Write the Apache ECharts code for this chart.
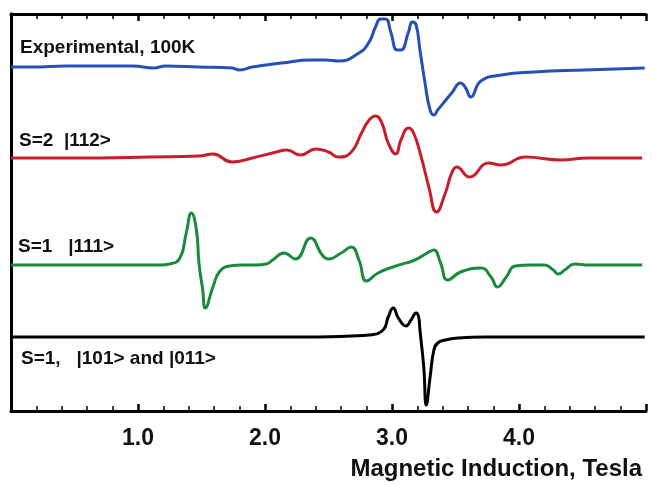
<!DOCTYPE html>
<html>
<head>
<meta charset="utf-8">
<script src="https://cdn.jsdelivr.net/npm/echarts@6/dist/echarts.min.js"></script>
<style>
  html, body { margin: 0; padding: 0; background: #fff; }
  #main { width: 653px; height: 485px; }
</style>
</head>
<body>
<div id="main"></div>
<script type="text/javascript">
    // field in Tesla, signal in arbitrary units (up = positive), each trace shifted by its offset
    var expField = [0.00,0.17,0.44,0.70,0.96,1.12,1.22,1.48,1.74,1.80,1.90,2.13,2.37,2.48,2.58,2.74,2.82,2.87,2.91,2.95,2.99,3.04,3.07,3.13,3.16,3.19,3.22,3.26,3.30,3.33,3.36,3.47,3.54,3.58,3.62,3.70,3.86,4.12,4.52,4.99];
    var expSig   = [0,0,1,1,1,-1,1,0,-1,-3,0,4,7,7,6,14,25,40,48,48,35,17,17,35,45,42,17,-16,-43,-48,-43,-26,-16,-21,-30,-14,-8,-5,-3,-1];

    var s2Field = [0.00,0.70,1.09,1.48,1.59,1.74,1.90,2.09,2.17,2.28,2.40,2.50,2.58,2.68,2.76,2.82,2.87,2.92,2.97,3.03,3.07,3.13,3.17,3.23,3.29,3.35,3.42,3.47,3.51,3.61,3.76,3.86,4.05,4.33,4.54,4.97];
    var s2Sig   = [0,0,1,2,4,-4,0,6,8,3,9,6,1,6,25,38,42,35,15,4,18,30,25,1,-29,-54,-35,-15,-9,-19,-5,-7,1,-2,0,0];

    var s1Field = [0.00,1.00,1.18,1.25,1.33,1.38,1.42,1.46,1.48,1.51,1.53,1.59,1.64,1.72,1.82,1.93,2.01,2.06,2.15,2.24,2.36,2.45,2.50,2.60,2.68,2.74,2.80,2.89,3.03,3.18,3.29,3.33,3.38,3.44,3.54,3.70,3.78,3.83,3.90,3.97,4.10,4.20,4.27,4.31,4.36,4.44,4.55,4.97];
    var s1Sig   = [0,0,0,1,7,32,52,35,2,-25,-43,-22,-7,-1,0,0,1,5,12,6,27,10,6,12,18,5,-16,-8,-1,5,13,15,3,-15,-7,-3,-12,-22,-12,-1,0,0,-5,-9,-5,1,0,0];

    var s1bField = [0.00,2.00,2.42,2.68,2.82,2.93,2.97,3.01,3.05,3.11,3.15,3.19,3.21,3.22,3.25,3.27,3.30,3.33,3.36,3.42,3.52,3.73,3.95,4.99];
    var s1bSig   = [0,0,0,1,2,7,20,29,19,11,17,24,20,7,-30,-68,-40,-13,-6,-3,-1,0,0,0];

    var traceNames = ['Experimental, 100K', 'S=2  |112>', 'S=1   |111>', 'S=1,   |101> and |011>'];
    var traceOffsets = [344, 253, 146, 74];
    var traceColors = ['#2650b6', '#c61f2b', '#1b8a3e', '#000000'];

    var fields = [expField, s2Field, s1Field, s1bField];
    var sigs = [expSig, s2Sig, s1Sig, s1bSig];

    var myChart = echarts.init(document.getElementById('main'));

    var series = [];
    for (var k = 0; k < 4; k++) {
        var d = [];
        for (var i = 0; i < fields[k].length; i++) {
            d.push([fields[k][i], traceOffsets[k] + sigs[k][i]]);
        }
        series.push({
            name: traceNames[k],
            type: 'line',
            data: d,
            showSymbol: false,
            smooth: 0.5,
            lineStyle: { color: traceColors[k], width: 3 },
            z: 3
        });
    }

    function xAx(pos, labels) {
        return {
            type: 'value',
            position: pos,
            min: 0,
            max: 5,
            interval: 1,
            axisLine: { show: true, onZero: false, lineStyle: { color: '#000', width: 3 } },
            axisTick: { show: true, inside: true, length: 7, lineStyle: { color: '#000', width: 2.5 } },
            minorTick: { show: true, splitNumber: 5, length: 5, lineStyle: { color: '#000', width: 1.5 } },
            splitLine: { show: false },
            axisLabel: {
                show: labels,
                showMinLabel: false,
                showMaxLabel: false,
                margin: 16,
                color: '#111',
                fontSize: 23,
                fontFamily: 'Liberation Sans',
                fontWeight: 'bold',
                formatter: function (v) { return v.toFixed(1); }
            }
        };
    }

    function yAx(pos) {
        return {
            type: 'value',
            position: pos,
            min: 0,
            max: 397,
            axisLine: { show: true, lineStyle: { color: '#000', width: 3 } },
            axisTick: { show: false },
            axisLabel: { show: false },
            splitLine: { show: false }
        };
    }

    var labelTops = [49, 142, 248, 360];
    var labelLefts = [20, 19, 18, 21];
    var graphics = [];
    for (var j = 0; j < 4; j++) {
        graphics.push({
            type: 'text',
            left: labelLefts[j],
            top: labelTops[j] - 11,
            style: {
                text: traceNames[j],
                fill: '#111',
                font: 'bold 19px "Liberation Sans"'
            }
        });
    }
    graphics.push({
        type: 'text',
        right: 11,
        top: 457,
        style: {
            text: 'Magnetic Induction, Tesla',
            fill: '#111',
            font: 'bold 24px "Liberation Sans"'
        }
    });

    var option = {
        backgroundColor: '#fff',
        animation: false,
        grid: { left: 11, right: 7, top: 14, bottom: 74 },
        xAxis: [xAx('bottom', true), xAx('top', false)],
        yAxis: [yAx('left'), yAx('right')],
        graphic: graphics,
        series: series
    };

    myChart.setOption(option, true);
</script>
</body>
</html>
